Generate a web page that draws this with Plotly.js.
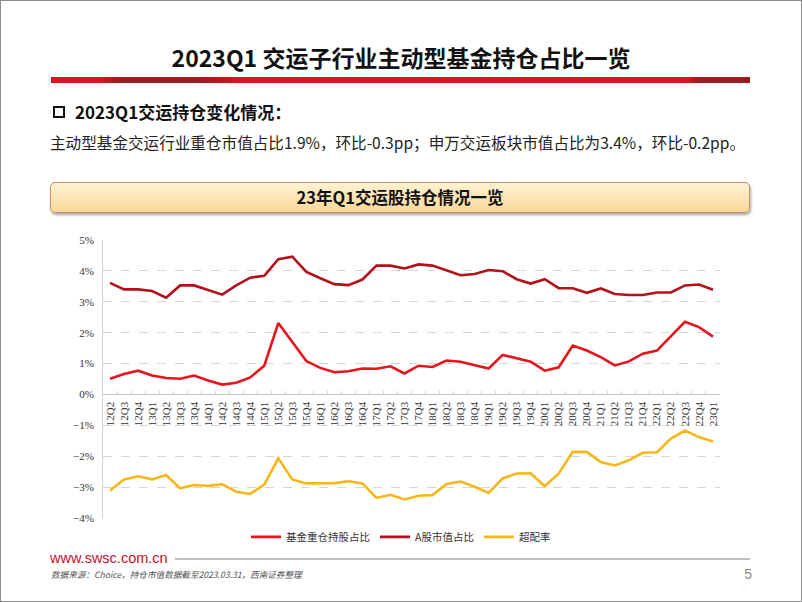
<!DOCTYPE html>
<html>
<head>
<meta charset="utf-8">
<script src="https://cdn.plot.ly/plotly-3.0.1.min.js"></script>
<style>
  html, body { margin: 0; padding: 0; background: #fff; }
  #page { position: relative; width: 802px; height: 602px; overflow: hidden; background: #fff; }
  #frame { position: absolute; left: 0; top: 0; width: 800px; height: 600px; border: 1px solid #8c8c8c; pointer-events: none; }
  #chart { position: absolute; left: 0; top: 0; width: 802px; height: 602px; }
  .abs { position: absolute; white-space: nowrap; font-family: "Noto Sans CJK SC", "Noto Sans", sans-serif; }
  #title { left: 0; width: 802px; top: 41px; text-align: center; font-size: 23px; font-weight: bold; color: #111; line-height: 32px; }
  #redbar { left: 51px; top: 77px; width: 699px; height: 6px;
    background: linear-gradient(to right, #d9141e 0%, #d9141e 7%, #9c1a1a 10%, #9c1a1a 21%, #d9141e 27%, #d9141e 91%, #9c1a1a 93%, #9c1a1a 100%); }
  #box { left: 53px; top: 106px; width: 8px; height: 8px; border: 2px solid #111; }
  #sub { left: 75px; top: 99px; font-size: 17px; font-weight: bold; color: #111; line-height: 26px; }
  #line2 { left: 50px; top: 130px; font-size: 15.6px; color: #222; line-height: 24px; }
  #banner { left: 50px; top: 182px; width: 698px; height: 29px; border-radius: 5px;
    background: linear-gradient(#fff3d2, #fbd797); border: 1px solid #c8926a;
    box-shadow: 1px 2px 3px rgba(0,0,0,0.35); text-align: center; font-size: 16.5px; font-weight: bold; color: #111; line-height: 29px; }
  #www { left: 50px; top: 548px; font-family: "Liberation Sans", Arial, sans-serif; font-size: 14.5px; color: #c8102e; line-height: 20px; }
  #gline { left: 175px; top: 558px; width: 575px; height: 1.5px; background: #bdbdbd; }
  #src { left: 51px; top: 568px; font-size: 8.6px; font-style: italic; color: #555; line-height: 13px; }
  #pnum { left: 740px; top: 565px; width: 12px; text-align: right; font-family: "Liberation Sans", Arial, sans-serif; font-size: 14px; color: #8a8a8a; line-height: 18px; }
</style>
</head>
<body>
<div id="page">
  <div id="chart"></div>
  <div class="abs" id="title">2023Q1 交运子行业主动型基金持仓占比一览</div>
  <div class="abs" id="redbar"></div>
  <div class="abs" id="box"></div>
  <div class="abs" id="sub">2023Q1交运持仓变化情况：</div>
  <div class="abs" id="line2">主动型基金交运行业重仓市值占比1.9%，环比-0.3pp；申万交运板块市值占比为3.4%，环比-0.2pp。</div>
  <div class="abs" id="banner">23年Q1交运股持仓情况一览</div>
  <div class="abs" id="www">www.swsc.com.cn</div>
  <div class="abs" id="gline"></div>
  <div class="abs" id="src">数据来源：Choice，持仓市值数据截至2023.03.31，西南证券整理</div>
  <div class="abs" id="pnum">5</div>
  <div id="frame"></div>
</div>
<script>
const quarters = ["12Q2","12Q3","12Q4",
  "13Q1","13Q2","13Q3","13Q4",
  "14Q1","14Q2","14Q3","14Q4",
  "15Q1","15Q2","15Q3","15Q4",
  "16Q1","16Q2","16Q3","16Q4",
  "17Q1","17Q2","17Q3","17Q4",
  "18Q1","18Q2","18Q3","18Q4",
  "19Q1","19Q2","19Q3","19Q4",
  "20Q1","20Q2","20Q3","20Q4",
  "21Q1","21Q2","21Q3","21Q4",
  "22Q1","22Q2","22Q3","22Q4",
  "23Q1"];

// 基金重仓持股占比 (%)
const fundShare = [0.51,0.66,0.77,0.61,0.53,0.51,0.61,0.45,0.32,0.38,0.55,0.93,2.31,1.70,1.08,
  0.86,0.72,0.75,0.84,0.83,0.91,0.68,0.93,0.89,1.10,1.06,0.95,0.84,1.28,1.17,
  1.06,0.77,0.88,1.58,1.42,1.21,0.94,1.07,1.32,1.42,1.87,2.35,2.18,1.87];

// A股市值占比 (%)
const marketShare = [3.61,3.40,3.40,3.35,3.13,3.53,3.53,3.38,3.23,3.53,3.78,3.84,4.38,4.46,3.97,
  3.76,3.57,3.54,3.72,4.17,4.17,4.08,4.21,4.17,4.01,3.86,3.90,4.03,3.99,3.73,
  3.59,3.73,3.44,3.44,3.29,3.43,3.25,3.22,3.22,3.30,3.30,3.53,3.56,3.39];

// 超配率 (%)
const overweight = [-3.11,-2.75,-2.65,-2.75,-2.61,-3.04,-2.93,-2.96,-2.91,-3.15,-3.22,-2.92,-2.07,-2.75,-2.88,
  -2.88,-2.87,-2.81,-2.88,-3.35,-3.25,-3.40,-3.28,-3.26,-2.90,-2.82,-2.99,-3.19,-2.72,-2.56,
  -2.55,-2.97,-2.56,-1.86,-1.86,-2.19,-2.30,-2.13,-1.89,-1.87,-1.43,-1.17,-1.38,-1.52];

const seriesNames = ["基金重仓持股占比", "A股市值占比", "超配率"];
const seriesColors = ["#e8141c", "#b3111b", "#f7b718"];

const yMin = -4, yMax = 5;

const traces = [fundShare, marketShare, overweight].map((vals, k) => ({
  type: "scatter",
  mode: "lines",
  x: quarters,
  y: vals,
  name: seriesNames[k],
  line: { color: seriesColors[k], width: 2.6 },
  hoverinfo: "skip"
}));

const layout = {
  width: 802,
  height: 602,
  margin: { l: 103, r: 82, t: 240, b: 84, pad: 0 },
  paper_bgcolor: "rgba(0,0,0,0)",
  plot_bgcolor: "rgba(0,0,0,0)",
  showlegend: true,
  legend: {
    orientation: "h",
    x: 0.483, xanchor: "center",
    y: -0.068, yanchor: "middle",
    font: { family: "Noto Sans CJK SC", size: 10.5, color: "#333" },
    itemwidth: 30,
    tracegroupgap: 0
  },
  xaxis: {
    type: "category",
    range: [-0.5, quarters.length - 0.5],
    anchor: "free",
    position: (0 - yMin) / (yMax - yMin),
    showline: true,
    linecolor: "#c8c8c8",
    linewidth: 1,
    showgrid: false,
    zeroline: false,
    ticks: "inside",
    tickson: "boundaries",
    ticklen: 3,
    tickcolor: "#d0d0d0",
    tickangle: -90,
    ticklabelstandoff: 2,
    tickfont: { family: "Liberation Serif, Times New Roman, serif", size: 11, color: "#333" },
    fixedrange: true
  },
  yaxis: {
    range: [yMin, yMax],
    dtick: 1,
    ticksuffix: "%",
    showline: true,
    linecolor: "#d0d0d0",
    linewidth: 1,
    showgrid: true,
    gridcolor: "#d6d6d6",
    griddash: "dash",
    gridwidth: 1,
    zeroline: false,
    ticks: "",
    ticklabelstandoff: 6,
    tickfont: { family: "Liberation Serif, Times New Roman, serif", size: 11, color: "#333" },
    fixedrange: true
  }
};

Plotly.newPlot("chart", traces, layout, { displayModeBar: false, staticPlot: true });
</script>
</body>
</html>
